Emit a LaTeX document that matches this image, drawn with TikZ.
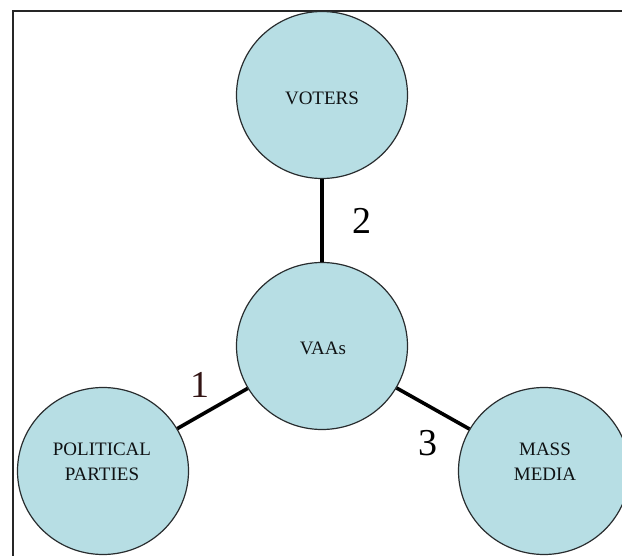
\documentclass[tikz,border=0pt]{standalone}
\usepackage{fontspec}
\setmainfont{Liberation Serif}
\usetikzlibrary{shapes.geometric}
\definecolor{bubble}{RGB}{183,222,228}
\definecolor{rim}{RGB}{40,44,46}
\definecolor{ink}{RGB}{15,18,20}
\tikzset{
  bubblenode/.style={ellipse, draw=rim, line width=1.2pt, fill=bubble,
    minimum width=171pt, minimum height=167pt, inner sep=0pt},
  bubbletext/.style={align=center, text=ink, inner sep=0pt,
    font=\fontsize{19}{25}\selectfont},
  link/.style={line width=3.6pt, black},
  numlabel/.style={font=\fontsize{38}{40}\selectfont, text=black, inner sep=0pt}
}
\begin{document}
\begin{tikzpicture}[x=1pt,y=-1pt]
\useasboundingbox (0,0) rectangle (622,556);
\fill[white] (0,0) rectangle (622,556);
\clip (0,0) rectangle (622,556);
\draw[line width=1.5pt, black!85] (13,11) rectangle (700,640);
\node[bubblenode] (voters) at (322,95) {};
\node[bubblenode] (vaas) at (322,346) {};
\node[bubblenode] (parties) at (103,471) {};
\node[bubblenode] (media) at (544,471) {};
\node[bubbletext] (tvoters) at (322,98) {VOTERS};
\node[bubbletext] (tvaas) at (323,348) {VAAs};
\node[bubbletext] (tparties) at (102,462) {POLITICAL\\PARTIES};
\node[bubbletext] (tmedia) at (545,462) {MASS\\MEDIA};
\draw[link] (vaas) -- (voters);
\draw[link] (vaas) -- (parties);
\draw[link] (vaas) -- (media);
\node[numlabel] (n2) at (362,221) {2};
\node[numlabel, text={rgb,255:red,50;green,20;blue,20}] (n1) at (200,385) {1};
\node[numlabel] (n3) at (428,443) {3};
\end{tikzpicture}
\end{document}
